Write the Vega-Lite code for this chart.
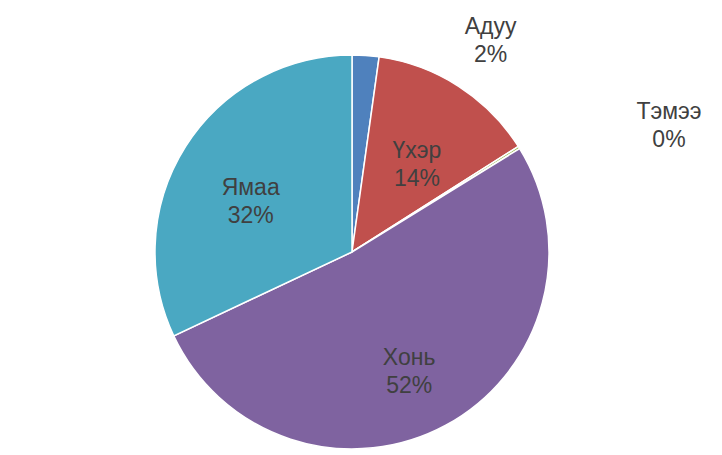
{
  "$schema": "https://vega.github.io/schema/vega-lite/v6.json",
  "width": 700,
  "height": 400,
  "autosize": "none",
  "padding": {"left": 2, "top": 52, "right": 20, "bottom": 3},
  "background": "white",
  "view": {"stroke": null},
  "config": {"text": {"font": "Liberation Sans"}},
  "data": {
    "values": [
      {"k": "Адуу", "v": 2.2, "i": 1, "label": "Адуу\n2%"},
      {"k": "Үхэр", "v": 13.8, "i": 2, "label": "Үхэр\n14%"},
      {"k": "Тэмээ", "v": 0.2, "i": 3, "label": "Тэмээ\n0%"},
      {"k": "Хонь", "v": 51.8, "i": 4, "label": "Хонь\n52%"},
      {"k": "Ямаа", "v": 32.0, "i": 5, "label": "Ямаа\n32%"}
    ]
  },
  "encoding": {
    "theta": {"field": "v", "type": "quantitative", "stack": true},
    "order": {"field": "i", "type": "quantitative", "sort": "ascending"}
  },
  "layer": [
    {
      "mark": {"type": "arc", "outerRadius": 197, "stroke": "white", "strokeWidth": 1.5},
      "encoding": {
        "color": {
          "field": "k", "type": "nominal", "legend": null,
          "scale": {"domain": ["Адуу", "Үхэр", "Тэмээ", "Хонь", "Ямаа"],
                    "range": ["#4F81BD", "#C0504D", "#9BBB59", "#7F63A0", "#4AA8C2"]}
        }
      }
    },
    {
      "mark": {"type": "text", "radius": 120, "fontSize": 23, "fill": "#404040", "lineBreak": "\n", "lineHeight": 28},
      "encoding": {
        "text": {"field": "label"},
        "opacity": {"condition": {"test": "datum.k === 'Адуу' || datum.k === 'Тэмээ'", "value": 0}, "value": 1}
      }
    },
    {
      "mark": {"type": "text", "radius": 197, "fontSize": 23, "fill": "#404040", "lineBreak": "\n", "lineHeight": 28, "dx": 125, "dy": -28},
      "encoding": {
        "text": {"field": "label"},
        "opacity": {"condition": {"test": "datum.k === 'Адуу'", "value": 1}, "value": 0}
      }
    },
    {
      "mark": {"type": "text", "radius": 197, "fontSize": 23, "fill": "#404040", "lineBreak": "\n", "lineHeight": 28, "dx": 150, "dy": -35},
      "encoding": {
        "text": {"field": "label"},
        "opacity": {"condition": {"test": "datum.k === 'Тэмээ'", "value": 1}, "value": 0}
      }
    }
  ]
}
